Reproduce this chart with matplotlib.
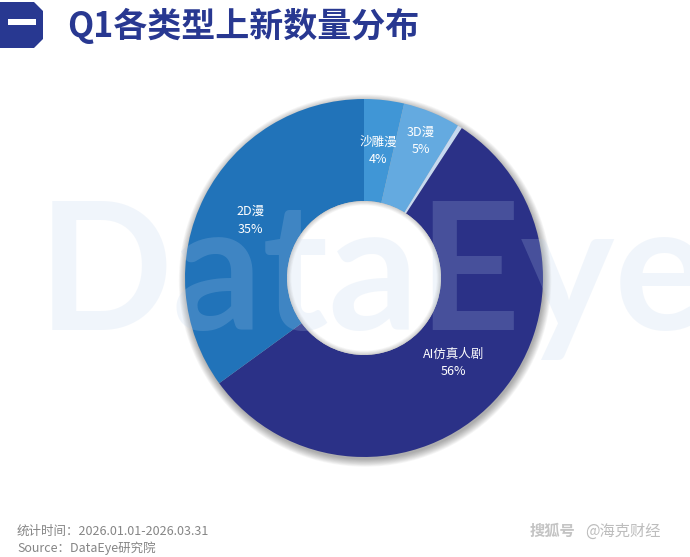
import matplotlib
matplotlib.use("Agg")
import matplotlib.pyplot as plt
from matplotlib.patches import Circle, Wedge, Polygon
import numpy as np

plt.rcParams['font.family'] = ['Noto Sans CJK SC', 'DejaVu Sans']

# ---- data ----
categories = ["沙雕漫", "3D漫", "", "AI仿真人剧", "2D漫"]
values = [3.6, 5.2, 0.4, 55.8, 35.0]
colors = ["#4096d6", "#64aae0", "#c6d9f0", "#2b3187", "#2173b9"]
label_dist = [0.715, 0.83, 0.0, 0.69, 0.71]
title = "Q1各类型上新数量分布"
footer1 = "统计时间：2026.01.01-2026.03.31"
footer2 = "Source：DataEye研究院"

W, H = 690, 557
fig = plt.figure(figsize=(W / 100, H / 100), dpi=100)
fig.patch.set_facecolor("white")

# pie axes: center (364, 278) px, outer radius 179 px
cx, cy, R = 364, 278, 179
half = 200
ax = fig.add_axes([(cx - half) / W, (H - cy - half) / H, 2 * half / W, 2 * half / H])
ax.axis("off")

hole = 0.43
wedges, _ = ax.pie(values, colors=colors, startangle=90, counterclock=False,
                   radius=1.0, wedgeprops=dict(width=1 - hole, linewidth=0),
                   normalize=True)
for w in wedges:
    w.set_zorder(1)
lim = half / R
ax.set_xlim(-lim, lim)
ax.set_ylim(-lim, lim)
ax.set_aspect("equal")

# outer soft shadow
for i in range(10):
    ax.add_patch(Circle((0.006, -0.014), 1.0 + 0.0045 * i, color="black",
                        alpha=0.035, lw=0, zorder=0))

# inner shadow on hole edge
ax.add_patch(Circle((0, 0), hole, color="white", lw=0, zorder=1.5))
for i in range(6):
    ax.add_patch(Wedge((0, 0), hole, 0, 360, width=0.004 * (i + 1), color="black",
                       alpha=0.03, lw=0, zorder=1.6))

# watermark
ax.text(38 / W, (H - 330) / H, "DataEye", transform=fig.transFigure,
        fontsize=128, family="Lato", fontweight="bold", color="#b8d0ec", alpha=0.2,
        ha="left", va="baseline", zorder=2, clip_on=False)

# labels
total = sum(values)
start = 90.0
for cat, v, d in zip(categories, values, label_dist):
    span = v / total * 360
    mid = np.deg2rad(start - span / 2)
    start -= span
    if not cat:
        continue
    x, y = d * np.cos(mid), d * np.sin(mid)
    ax.text(x, y, f"{cat}\n{round(v):d}%", ha="center", va="center",
            fontsize=9, fontweight="medium", color="white", linespacing=1.45, zorder=5)

# title block
fig.patches.append(Polygon(
    [(0 / W, 1 - 2 / H), (34 / W, 1 - 2 / H), (43 / W, 1 - 11 / H),
     (43 / W, 1 - 39 / H), (34 / W, 1 - 48 / H), (0 / W, 1 - 48 / H)],
    closed=True, transform=fig.transFigure, color="#283891", lw=0))
fig.patches.append(Polygon(
    [(8 / W, 1 - 19 / H), (36 / W, 1 - 19 / H), (36 / W, 1 - 25 / H), (8 / W, 1 - 25 / H)],
    closed=True, transform=fig.transFigure, color="white", lw=0))
fig.text(67 / W, 1 - 26 / H, title, fontsize=24.5, fontweight="heavy",
         color="#283891", ha="left", va="center")

# footer
fig.text(17 / W, 1 - 531 / H, footer1, fontsize=9, color="#858585", ha="left", va="center")
fig.text(17 / W, 1 - 548 / H, footer2, fontsize=9, color="#858585", ha="left", va="center")
fig.text(530 / W, 1 - 531 / H, "搜狐号", fontsize=11, color="#c4c4c4",
         style="italic", fontweight="bold", ha="left", va="center")
fig.text(585 / W, 1 - 531 / H, "@海克财经", fontsize=11, color="#bdbdbd",
         ha="left", va="center")

fig.savefig("out.png", dpi=100, facecolor="white")
